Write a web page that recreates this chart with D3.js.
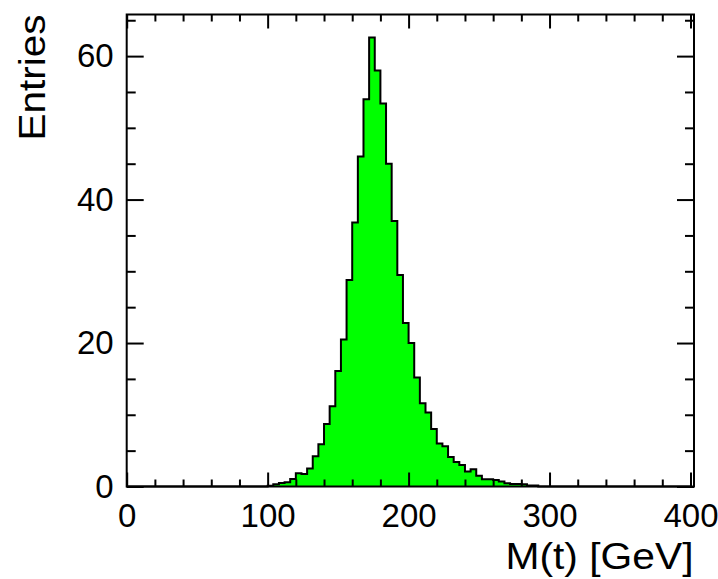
<!DOCTYPE html>
<html><head><meta charset="utf-8">
<script src="https://cdn.jsdelivr.net/npm/d3@7"></script>
<style>
html,body{margin:0;padding:0;background:#fff;}
text{font-family:"Liberation Sans",Arial,Helvetica,sans-serif;}
</style></head>
<body><svg id="c" width="718" height="579"></svg>
<script>
// Bin lower edges (GeV), bin width 4 GeV; bins outside are empty
const binStarts = [100,104,108,112,116,120,124,128,132,136,140,144,148,152,156,160,164,168,172,176,
  180,184,188,192,196,200,204,208,212,216,220,224,228,232,236,240,244,248,252,256,
  260,264,268,272,276,280,284,288];
const binWidth = 4;
const entries = [0.1,0.3,0.5,0.6,1.05,1.85,1.75,2.5,4.2,5.9,8.7,11.2,16.1,20.5,28.8,36.8,46.0,54.0,62.6,58.0,
  53.4,45.0,37.0,29.5,22.8,20.0,15.2,11.6,10.3,8.0,6.0,5.6,4.1,3.4,3.0,2.1,2.4,1.5,1.0,1.0,
  0.9,0.7,0.45,0.35,0.35,0.3,0.15,0.15];
const xMajor = [0,100,200,300,400];
const yMajor = [0,20,40,60];
const xTitle = "M(t) [GeV]";
const yTitle = "Entries";

const svg = d3.select("#c");
const L = 126.7, R = 694, T = 14.5, B = 486.5;
const x = d3.scaleLinear().domain([0, 402.5]).range([L, R]);
const y = d3.scaleLinear().domain([0, 65.8]).range([B, T]);

// step points
const pts = [[x(0), y(0)]];
pts.push([x(binStarts[0]), y(0)]);
binStarts.forEach((s, i) => {
  pts.push([x(s), y(entries[i])]);
  pts.push([x(s + binWidth), y(entries[i])]);
});
pts.push([x(binStarts[binStarts.length - 1] + binWidth), y(0)]);
pts.push([x(400), y(0)]);

const area = d3.area().x(d => d[0]).y0(y(0)).y1(d => d[1]);
svg.append("path").attr("d", area(pts)).attr("fill", "#00ff00");
svg.append("path").attr("d", d3.line()(pts)).attr("fill", "none")
  .attr("stroke", "#000").attr("stroke-width", 2).attr("stroke-linejoin", "miter");

// minor tick arrays
const xMinor = d3.range(0, 401, 20).filter(v => v % 100 !== 0);
const yMinor = d3.range(0, 66, 5).filter(v => v % 20 !== 0);

function styleAxis(g) {
  g.select(".domain").remove();
  g.selectAll("line").attr("stroke", "#000").attr("stroke-width", 2);
  g.selectAll("text").attr("fill", "#000").style("font-size", "33px");
}

// bottom
svg.append("g").attr("transform", `translate(0,${B})`)
  .call(d3.axisBottom(x).tickValues(xMajor).tickFormat(d3.format("d")).tickSize(-14).tickPadding(17)).call(styleAxis);
svg.append("g").attr("transform", `translate(0,${B})`)
  .call(d3.axisBottom(x).tickValues(xMinor).tickFormat("").tickSize(-7)).call(styleAxis);
// top
svg.append("g").attr("transform", `translate(0,${T})`)
  .call(d3.axisTop(x).tickValues(xMajor).tickFormat("").tickSize(-14)).call(styleAxis);
svg.append("g").attr("transform", `translate(0,${T})`)
  .call(d3.axisTop(x).tickValues(xMinor).tickFormat("").tickSize(-7)).call(styleAxis);
// left
svg.append("g").attr("transform", `translate(${L},0)`)
  .call(d3.axisLeft(y).tickValues(yMajor).tickFormat(d3.format("d")).tickSize(-17).tickPadding(13)).call(styleAxis);
svg.append("g").attr("transform", `translate(${L},0)`)
  .call(d3.axisLeft(y).tickValues(yMinor).tickFormat("").tickSize(-9)).call(styleAxis);
// right
svg.append("g").attr("transform", `translate(${R},0)`)
  .call(d3.axisRight(y).tickValues(yMajor).tickFormat("").tickSize(-17)).call(styleAxis);
svg.append("g").attr("transform", `translate(${R},0)`)
  .call(d3.axisRight(y).tickValues(yMinor).tickFormat("").tickSize(-9)).call(styleAxis);

// frame
svg.append("rect").attr("x", L).attr("y", T).attr("width", R - L).attr("height", B - T)
  .attr("fill", "none").attr("stroke", "#000").attr("stroke-width", 2);

// titles
svg.append("text").attr("x", 693.5).attr("y", 569).attr("text-anchor", "end")
  .style("font-size", "36.5px").attr("fill", "#000")
  .attr("textLength", 188).attr("lengthAdjust", "spacingAndGlyphs").text(xTitle);
svg.append("text").attr("transform", `translate(44.5,${T}) rotate(-90)`).attr("text-anchor", "end")
  .style("font-size", "36.5px").attr("fill", "#000")
  .attr("textLength", 126).attr("lengthAdjust", "spacingAndGlyphs").text(yTitle);
</script></body></html>
